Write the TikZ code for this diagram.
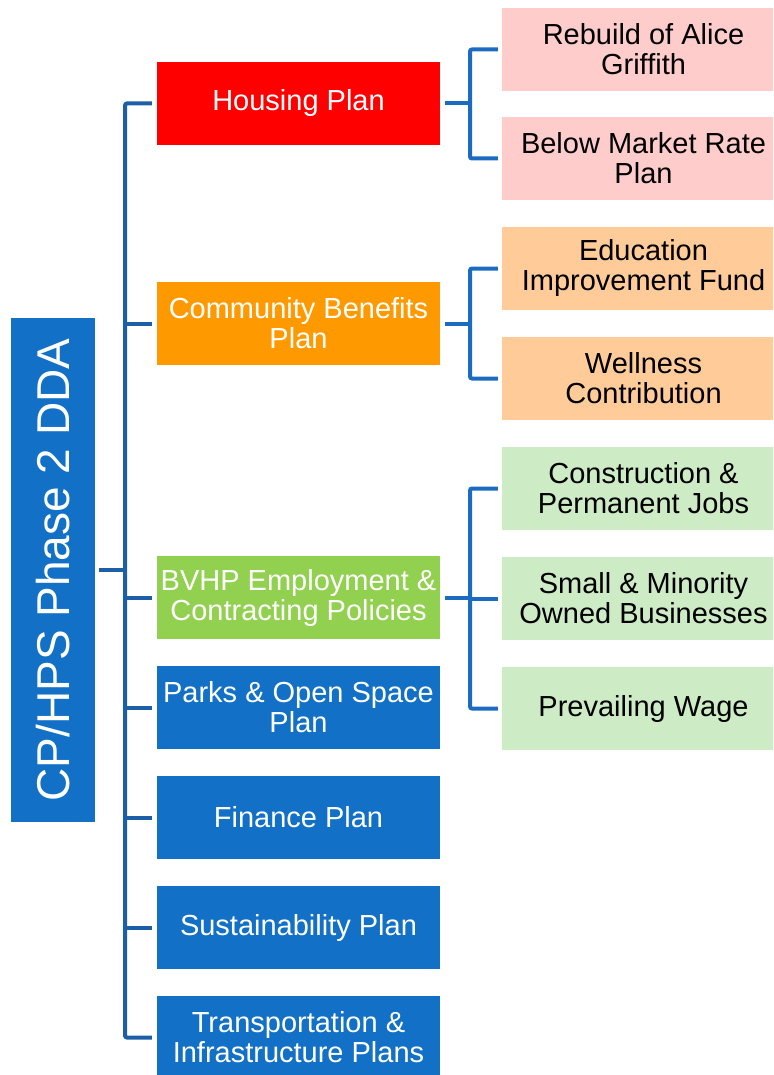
\documentclass[tikz,border=0pt]{standalone}
\usepackage{fontspec}
\setmainfont{Liberation Sans}

\definecolor{ddablue}{HTML}{1270C6}
\definecolor{housingred}{HTML}{FF0000}
\definecolor{benefitorange}{HTML}{FF9900}
\definecolor{jobsgreen}{HTML}{92D050}
\definecolor{lightred}{HTML}{FFCCCC}
\definecolor{lightorange}{HTML}{FFCC99}
\definecolor{lightgreen}{HTML}{CDEBC5}
\definecolor{trunkblue}{HTML}{1D5FA7}
\definecolor{twigblue}{HTML}{1B6CC0}

\tikzset{
  plan/.style={fill=ddablue, minimum width=283pt, minimum height=83pt, inner sep=0pt,
    align=center, text=white, font=\fontsize{29}{30}\selectfont},
  item/.style={plan, text=black},
  trunk/.style={draw=trunkblue, line width=4pt},
  twig/.style={draw=twigblue, line width=4pt},
}

\begin{document}
\begin{tikzpicture}[x=1pt, y=-1pt]
        \useasboundingbox (0,0) rectangle (773,1075);
        \clip (0,0) rectangle (773,1075);

        % Root box (rotated, so its south side faces right)
        \node[plan, rotate=90, minimum width=504pt, minimum height=84pt,
              font=\fontsize{46}{50}\selectfont] (root) at (53,570) {CP/HPS Phase 2 DDA};

        % Plans
        \node[plan, fill=housingred] (housing) at (298.5,103.5) {Housing Plan};
        \node[plan, fill=benefitorange] (benefits) at (298.5,323.5) {Community Benefits\\Plan};
        \node[plan, fill=jobsgreen] (bvhp) at (298.5,597.5) {BVHP Employment \&\\Contracting Policies};
        \node[plan] (parks) at (298.5,707.5) {Parks \& Open Space\\Plan};
        \node[plan] (finance) at (298.5,817.5) {Finance Plan};
        \node[plan] (sustain) at (298.5,927.5) {Sustainability Plan};
        \node[plan] (transp) at (298.5,1037.5) {Transportation \&\\Infrastructure Plans};

        % Sub-items
        \node[item, fill=lightred] (alice) at (643.5,49.5) {Rebuild of Alice\\Griffith};
        \node[item, fill=lightred] (bmr) at (643.5,158.5) {Below Market Rate\\Plan};
        \node[item, fill=lightorange] (fund) at (643.5,268.5) {Education\\Improvement Fund};
        \node[item, fill=lightorange] (wellness) at (643.5,378.5) {Wellness\\Contribution};
        \node[item, fill=lightgreen] (jobs) at (643.5,488.5) {Construction \&\\Permanent Jobs};
        \node[item, fill=lightgreen] (smallbiz) at (643.5,598.5) {Small \& Minority\\Owned Businesses};
        \node[item, fill=lightgreen] (wage) at (643.5,708.5) {Prevailing Wage};

        % Trunk
        \coordinate (tk) at (125,0);
        \coordinate (bx) at (470,0);
        \draw[trunk, rounded corners=2pt] ([xshift=-5pt]housing.west) -| (tk |- transp.west)
            -- ([xshift=-5pt]transp.west);
        \draw[trunk] ([xshift=4pt]root.south) -- (tk |- root.south);
        \foreach \p in {benefits, bvhp, parks, finance, sustain} {
            \draw[trunk] (tk |- \p.west) -- ([xshift=-5pt]\p.west);
        };

        % Branches to the sub-items
        \foreach \p/\a/\b in {housing/alice/bmr, benefits/fund/wellness, bvhp/jobs/wage} {
            \draw[twig] ([xshift=5pt]\p.east) -- (bx |- \p.east);
            \draw[twig, rounded corners=2pt] ([xshift=-4pt]\a.west) -| (bx |- \b.west)
                -- ([xshift=-4pt]\b.west);
        };
        \draw[twig] (bx |- smallbiz.west) -- ([xshift=-4pt]smallbiz.west);
    \end{tikzpicture}
\end{document}
